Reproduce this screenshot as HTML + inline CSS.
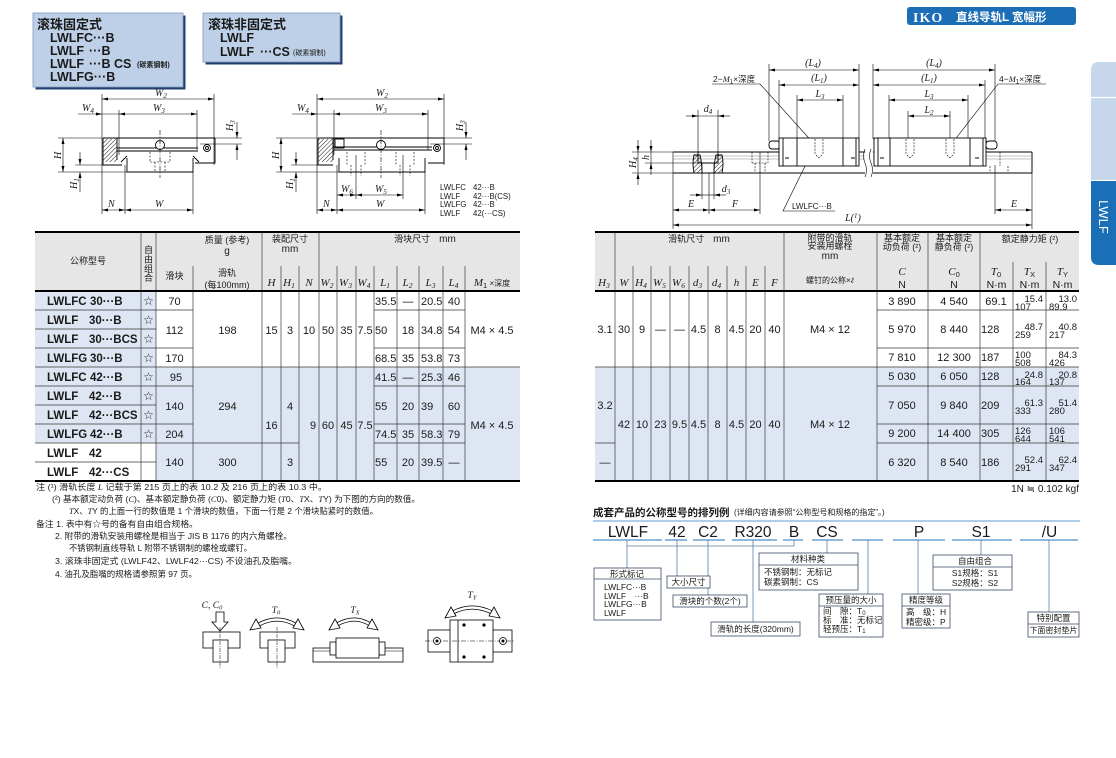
<!DOCTYPE html>
<html><head><meta charset="utf-8">
<style>
html,body{margin:0;padding:0;background:#fff;}
svg{display:block;}
text{font-family:"Liberation Sans","Noto Sans CJK SC",sans-serif;fill:#1a1a1a;}
.s{font-family:"Liberation Serif","Noto Serif CJK SC",serif;font-style:italic;}
.b{font-weight:bold;}
.st{font-family:"DejaVu Sans",sans-serif;}
</style></head><body>
<svg width="1116" height="758" viewBox="0 0 1116 758" xmlns="http://www.w3.org/2000/svg">
<defs>
<marker id="a" viewBox="0 0 8 4" refX="8" refY="2" markerWidth="6" markerHeight="3" markerUnits="userSpaceOnUse" orient="auto-start-reverse"><path d="M0,0L8,2L0,4z" fill="#000"/></marker>
<pattern id="h" width="3" height="3" patternUnits="userSpaceOnUse" patternTransform="rotate(45)"><line x1="0" y1="0" x2="0" y2="3" stroke="#000" stroke-width="0.9"/></pattern>
</defs>

<!-- ===== HEADER BOXES ===== -->
<rect x="35.5" y="15.5" width="150" height="74" fill="#22406c"/>
<rect x="33" y="13" width="150" height="74" fill="#bdd0e7" stroke="#7f9cc2" stroke-width="0.8"/>
<g class="b" font-size="12.5">
<text class="b" x="37" y="29" font-size="13">滚珠固定式</text>
<text class="b" x="50" y="42">LWLFC···B</text>
<text class="b" x="50" y="55">LWLF</text><text class="b" x="89" y="55">···B</text>
<text class="b" x="50" y="68">LWLF</text><text class="b" x="89" y="68">···B CS</text>
<text x="137" y="67" font-size="7">(碳素钢制)</text>
<text class="b" x="50" y="81">LWLFG···B</text>
</g>
<rect x="205.5" y="15.5" width="137" height="49" fill="#22406c"/>
<rect x="203" y="13" width="137" height="49" fill="#bdd0e7" stroke="#7f9cc2" stroke-width="0.8"/>
<text class="b" x="208" y="29" font-size="13">滚珠非固定式</text>
<text class="b" x="220" y="42" font-size="12.5">LWLF</text>
<text class="b" x="220" y="56" font-size="12.5">LWLF</text><text class="b" x="260" y="56" font-size="12.5">···CS</text>
<text x="293" y="55" font-size="7">(碳素钢制)</text>

<!-- IKO title -->
<rect x="907" y="7" width="169" height="18" rx="3" fill="#1b6db5"/>
<text x="913" y="22" font-size="14" class="b" style="fill:#fff;font-family:'Liberation Serif',serif;letter-spacing:1px">IKO</text>
<text x="956" y="21" font-size="11.5" class="b" style="fill:#fff">直线导轨L 宽幅形</text>

<!-- right tab -->
<path d="M1099,62 H1116 V180 H1091 V70 Q1091,62 1099,62Z" fill="#c6d7ec"/>
<line x1="1091" y1="97.5" x2="1116" y2="97.5" stroke="#fff" stroke-width="1.2"/>
<path d="M1091,181 H1116 V265 H1099 Q1091,265 1091,257Z" fill="#1b6fb6"/>
<text x="1103" y="217" font-size="13" text-anchor="middle" transform="rotate(90 1103 217)" dy="4" style="fill:#fff">LWLF</text>

<!-- ===== LEFT DRAWING 1 ===== -->
<g stroke="#000" stroke-width="0.6" fill="none">
<line x1="102" y1="94" x2="102" y2="214"/>
<line x1="214" y1="94" x2="214" y2="165"/>
<line x1="119" y1="110" x2="119" y2="155"/>
<line x1="197" y1="110" x2="197" y2="150"/>
<line x1="125" y1="165" x2="125" y2="214"/>
<line x1="193" y1="172" x2="193" y2="214"/>
<line x1="58" y1="138" x2="102" y2="138"/>
<line x1="214" y1="138" x2="242" y2="138"/>
<line x1="200" y1="144" x2="242" y2="144"/>
<line x1="58" y1="172" x2="127" y2="172"/>
<line x1="75" y1="165" x2="103" y2="165"/>
<line x1="102" y1="99" x2="214" y2="99" marker-start="url(#a)" marker-end="url(#a)"/>
<line x1="78" y1="114" x2="102" y2="114" marker-end="url(#a)"/>
<line x1="102" y1="114" x2="119" y2="114"/>
<line x1="119" y1="114" x2="197" y2="114" marker-start="url(#a)" marker-end="url(#a)"/>
<line x1="63" y1="138" x2="63" y2="172" marker-start="url(#a)" marker-end="url(#a)"/>
<line x1="80" y1="152" x2="80" y2="165" marker-end="url(#a)"/>
<line x1="80" y1="192" x2="80" y2="172" marker-end="url(#a)"/>
<line x1="237" y1="122" x2="237" y2="138" marker-end="url(#a)"/>
<line x1="237" y1="160" x2="237" y2="144" marker-end="url(#a)"/>
<line x1="102" y1="210" x2="125" y2="210" marker-start="url(#a)" marker-end="url(#a)"/>
<line x1="125" y1="210" x2="193" y2="210" marker-start="url(#a)" marker-end="url(#a)"/>
</g>
<g stroke="#000" stroke-width="0.9" fill="none">
<rect x="103" y="139" width="14" height="23" fill="url(#h)" stroke="none"/>
<path d="M103,138 H215 V163 H195 M103,138 V165 H122"/>
<path d="M117,148 H198 M117,151 H198"/>
<path d="M127,158 V172 H193 V158"/>
<line x1="117" y1="138" x2="117" y2="160"/>
<line x1="121" y1="162" x2="127" y2="156"/><line x1="193" y1="156" x2="199" y2="162"/>
<circle cx="160" cy="145" r="4.5" fill="#fff"/>
<circle cx="207" cy="148" r="3.5" fill="#fff"/>
<circle cx="207" cy="148" r="1.5"/>
</g>
<g stroke="#000" stroke-width="0.6" fill="none" stroke-dasharray="2,1.5">
<path d="M150,152 V162 M170,152 V162 M155,162 V172 M165,162 V172 M150,162 H170"/>
<line x1="160" y1="130" x2="160" y2="178" stroke-dasharray="5,1.5,1,1.5"/>
</g>
<text class="s" x="155" y="96" font-size="10">W<tspan font-size="7" dy="2">2</tspan></text>
<text class="s" x="82" y="111" font-size="10">W<tspan font-size="7" dy="2">4</tspan></text>
<text class="s" x="153" y="111" font-size="10">W<tspan font-size="7" dy="2">3</tspan></text>
<text class="s" x="61" y="159" font-size="10" transform="rotate(-90 61 159)">H</text>
<text class="s" x="77" y="189" font-size="10" transform="rotate(-90 77 189)">H<tspan font-size="7" dy="2">1</tspan></text>
<text class="s" x="233" y="131" font-size="10" transform="rotate(-90 233 131)">H<tspan font-size="7" dy="2">3</tspan></text>
<text class="s" x="108" y="207" font-size="10">N</text>
<text class="s" x="155" y="207" font-size="10">W</text>

<!-- ===== LEFT DRAWING 2 ===== -->
<g stroke="#000" stroke-width="0.6" fill="none">
<line x1="317" y1="94" x2="317" y2="214"/>
<line x1="444" y1="94" x2="444" y2="165"/>
<line x1="334" y1="110" x2="334" y2="155"/>
<line x1="428" y1="110" x2="428" y2="150"/>
<line x1="337" y1="165" x2="337" y2="214"/>
<line x1="425" y1="172" x2="425" y2="214"/>
<line x1="356" y1="155" x2="356" y2="199"/>
<line x1="403" y1="155" x2="403" y2="199"/>
<line x1="276" y1="138" x2="317" y2="138"/>
<line x1="444" y1="138" x2="472" y2="138"/>
<line x1="430" y1="144" x2="472" y2="144"/>
<line x1="276" y1="172" x2="340" y2="172"/>
<line x1="291" y1="165" x2="318" y2="165"/>
<line x1="317" y1="99" x2="444" y2="99" marker-start="url(#a)" marker-end="url(#a)"/>
<line x1="292" y1="114" x2="317" y2="114" marker-end="url(#a)"/>
<line x1="317" y1="114" x2="334" y2="114"/>
<line x1="334" y1="114" x2="428" y2="114" marker-start="url(#a)" marker-end="url(#a)"/>
<line x1="281" y1="138" x2="281" y2="172" marker-start="url(#a)" marker-end="url(#a)"/>
<line x1="296" y1="152" x2="296" y2="165" marker-end="url(#a)"/>
<line x1="296" y1="192" x2="296" y2="172" marker-end="url(#a)"/>
<line x1="466" y1="122" x2="466" y2="138" marker-end="url(#a)"/>
<line x1="466" y1="160" x2="466" y2="144" marker-end="url(#a)"/>
<line x1="337" y1="195" x2="356" y2="195" marker-start="url(#a)" marker-end="url(#a)"/>
<line x1="356" y1="195" x2="403" y2="195" marker-start="url(#a)" marker-end="url(#a)"/>
<line x1="317" y1="210" x2="337" y2="210" marker-start="url(#a)" marker-end="url(#a)"/>
<line x1="337" y1="210" x2="425" y2="210" marker-start="url(#a)" marker-end="url(#a)"/>
</g>
<g stroke="#000" stroke-width="0.9" fill="none">
<rect x="318" y="139" width="15" height="23" fill="url(#h)" stroke="none"/>
<path d="M318,138 H444 V163 H428 M318,138 V165 H333"/>
<path d="M333,147 H432 M333,150 H432"/>
<path d="M339,158 V172 H425 V158"/>
<line x1="333" y1="138" x2="333" y2="160"/>
<rect x="335" y="139" width="9" height="9"/>
<circle cx="381" cy="145" r="4.5" fill="#fff"/>
<circle cx="437" cy="148" r="3.5" fill="#fff"/>
<circle cx="437" cy="148" r="1.5"/>
</g>
<g stroke="#000" stroke-width="0.6" fill="none" stroke-dasharray="2,1.5">
<path d="M347,152 V165 M365,152 V165 M351,165 V176 M361,165 V176"/>
<path d="M396,152 V165 M414,152 V165 M400,165 V176 M410,165 V176"/>
<line x1="381" y1="130" x2="381" y2="178" stroke-dasharray="5,1.5,1,1.5"/>
</g>
<text class="s" x="376" y="96" font-size="10">W<tspan font-size="7" dy="2">2</tspan></text>
<text class="s" x="297" y="111" font-size="10">W<tspan font-size="7" dy="2">4</tspan></text>
<text class="s" x="375" y="111" font-size="10">W<tspan font-size="7" dy="2">3</tspan></text>
<text class="s" x="279" y="159" font-size="10" transform="rotate(-90 279 159)">H</text>
<text class="s" x="293" y="189" font-size="10" transform="rotate(-90 293 189)">H<tspan font-size="7" dy="2">1</tspan></text>
<text class="s" x="463" y="131" font-size="10" transform="rotate(-90 463 131)">H<tspan font-size="7" dy="2">3</tspan></text>
<text class="s" x="341" y="192" font-size="10">W<tspan font-size="7" dy="2">6</tspan></text>
<text class="s" x="375" y="192" font-size="10">W<tspan font-size="7" dy="2">5</tspan></text>
<text class="s" x="323" y="207" font-size="10">N</text>
<text class="s" x="376" y="207" font-size="10">W</text>
<g font-size="7.8">
<text x="440" y="190">LWLFC</text><text x="473" y="190">42···B</text>
<text x="440" y="199">LWLF</text><text x="473" y="199">42···B(CS)</text>
<text x="440" y="207">LWLFG</text><text x="473" y="207">42···B</text>
<text x="440" y="216">LWLF</text><text x="473" y="216">42(···CS)</text>
</g>

<!-- ===== RIGHT DRAWING ===== -->
<g stroke="#000" stroke-width="0.6" fill="none">
<!-- extension lines -->
<line x1="769" y1="64" x2="769" y2="141"/>
<line x1="779" y1="80" x2="779" y2="138"/>
<line x1="859" y1="64" x2="859" y2="139"/>
<line x1="797" y1="95" x2="797" y2="138"/>
<line x1="843" y1="95" x2="843" y2="138"/>
<line x1="873" y1="64" x2="873" y2="139"/>
<line x1="985" y1="80" x2="985" y2="138"/>
<line x1="995" y1="64" x2="995" y2="141"/>
<line x1="995" y1="165" x2="995" y2="214"/>
<line x1="889" y1="95" x2="889" y2="138"/>
<line x1="968" y1="95" x2="968" y2="138"/>
<line x1="908" y1="111" x2="908" y2="139"/>
<line x1="950" y1="111" x2="950" y2="139"/>
<line x1="698" y1="110" x2="698" y2="153"/>
<line x1="718" y1="110" x2="718" y2="153"/>
<line x1="702" y1="163" x2="702" y2="199"/>
<line x1="714" y1="163" x2="714" y2="199"/>
<line x1="673" y1="152" x2="673" y2="229"/>
<line x1="1032" y1="152" x2="1032" y2="229"/>
<line x1="709" y1="173" x2="709" y2="214"/>
<line x1="760" y1="152" x2="760" y2="214"/>
<line x1="632" y1="152" x2="700" y2="152"/>
<line x1="645" y1="163" x2="700" y2="163"/>
<line x1="632" y1="173" x2="673" y2="173"/>
<!-- dims -->
<line x1="769" y1="70" x2="859" y2="70" marker-start="url(#a)" marker-end="url(#a)"/>
<line x1="779" y1="85" x2="859" y2="85" marker-start="url(#a)" marker-end="url(#a)"/>
<line x1="797" y1="100" x2="843" y2="100" marker-start="url(#a)" marker-end="url(#a)"/>
<line x1="873" y1="70" x2="995" y2="70" marker-start="url(#a)" marker-end="url(#a)"/>
<line x1="873" y1="85" x2="985" y2="85" marker-start="url(#a)" marker-end="url(#a)"/>
<line x1="889" y1="100" x2="968" y2="100" marker-start="url(#a)" marker-end="url(#a)"/>
<line x1="908" y1="116" x2="950" y2="116" marker-start="url(#a)" marker-end="url(#a)"/>
<line x1="686" y1="116" x2="698" y2="116" marker-end="url(#a)"/>
<line x1="698" y1="116" x2="718" y2="116"/>
<line x1="730" y1="116" x2="718" y2="116" marker-end="url(#a)"/>
<line x1="690" y1="195" x2="702" y2="195" marker-end="url(#a)"/>
<line x1="702" y1="195" x2="714" y2="195"/>
<line x1="726" y1="195" x2="714" y2="195" marker-end="url(#a)"/>
<line x1="638" y1="140" x2="638" y2="152" marker-end="url(#a)"/>
<line x1="638" y1="152" x2="638" y2="173"/>
<line x1="638" y1="185" x2="638" y2="173" marker-end="url(#a)"/>
<line x1="651" y1="140" x2="651" y2="152" marker-end="url(#a)"/>
<line x1="651" y1="152" x2="651" y2="163"/>
<line x1="651" y1="175" x2="651" y2="163" marker-end="url(#a)"/>
<line x1="673" y1="210" x2="709" y2="210" marker-start="url(#a)" marker-end="url(#a)"/>
<line x1="709" y1="210" x2="760" y2="210" marker-start="url(#a)" marker-end="url(#a)"/>
<line x1="995" y1="210" x2="1032" y2="210" marker-start="url(#a)" marker-end="url(#a)"/>
<line x1="673" y1="225" x2="1032" y2="225" marker-start="url(#a)" marker-end="url(#a)"/>
<!-- leaders -->
<path d="M712,84 H760 L816,146"/>
<path d="M1046,84 H998 L950,146"/>
<path d="M835,211 H783 L808,160"/>
</g>
<!-- rail -->
<g stroke="#000" stroke-width="0.9" fill="none">
<path d="M673,152 H865 M873,152 H1032 M673,173 H865 M873,173 H1032 M1032,152 V173"/>
<path d="M673,156 H865 M873,156 H1032" stroke="#888" stroke-width="0.6"/>
<path d="M673,159 H865 M873,159 H1032" stroke="#888" stroke-width="0.6"/>
<path d="M865,149 q-3,7 0,14 q3,7 0,14 M871,149 q-3,7 0,14 q3,7 0,14" stroke-width="0.6"/>
<!-- section hole -->
<path d="M694,155 H700 Q702,163 702,173 H694 Q692,163 694,155Z" fill="url(#h)"/>
<path d="M722,155 H716 Q714,163 714,173 H722 Q724,163 722,155Z" fill="url(#h)"/>
<path d="M698,152 V163 H718 V152"/>
<!-- slider 1 -->
<rect x="769" y="141" width="11" height="8" rx="3" fill="#fff"/>
<rect x="779" y="138" width="80" height="28" fill="#fff"/>
<path d="M783,138 V166 M797,138 V166 M843,138 V166 M856,138 V166"/>
<path d="M785,158 H789 M851,158 H855"/>
<!-- slider 2 -->
<rect x="986" y="141" width="11" height="8" rx="3" fill="#fff"/>
<rect x="874" y="138" width="112" height="28" fill="#fff"/>
<path d="M878,138 V166 M890,138 V166 M970,138 V166 M983,138 V166"/>
<path d="M880,158 H884 M975,158 H979"/>
</g>
<g stroke="#000" stroke-width="0.6" fill="none" stroke-dasharray="2,1.2">
<path d="M815,139 V155 M823,139 V155 M816,155 L819,158 L822,155"/>
<path d="M906,139 V155 M914,139 V155 M907,155 L910,158 L913,155"/>
<path d="M946,139 V155 M954,139 V155 M947,155 L950,158 L953,155"/>
<path d="M752,152 V163 M768,152 V163 M755,163 V173 M765,163 V173 M752,163 H768"/>
<path d="M990,166 V173 M1008,166 V173 M1000,152 V166" />
</g>
<g font-size="10">
<text class="s" x="813" y="66" text-anchor="middle">(L<tspan font-size="7" dy="2">4</tspan><tspan dy="-2">)</tspan></text>
<text class="s" x="819" y="81" text-anchor="middle">(L<tspan font-size="7" dy="2">1</tspan><tspan dy="-2">)</tspan></text>
<text class="s" x="820" y="97" text-anchor="middle">L<tspan font-size="7" dy="2">3</tspan></text>
<text class="s" x="934" y="66" text-anchor="middle">(L<tspan font-size="7" dy="2">4</tspan><tspan dy="-2">)</tspan></text>
<text class="s" x="929" y="81" text-anchor="middle">(L<tspan font-size="7" dy="2">1</tspan><tspan dy="-2">)</tspan></text>
<text class="s" x="929" y="97" text-anchor="middle">L<tspan font-size="7" dy="2">3</tspan></text>
<text class="s" x="929" y="113" text-anchor="middle">L<tspan font-size="7" dy="2">2</tspan></text>
<text class="s" x="708" y="112" text-anchor="middle">d<tspan font-size="7" dy="2">4</tspan></text>
<text class="s" x="726" y="192" text-anchor="middle">d<tspan font-size="7" dy="2">3</tspan></text>
<text class="s" x="691" y="207" text-anchor="middle">E</text>
<text class="s" x="735" y="207" text-anchor="middle">F</text>
<text class="s" x="1014" y="207" text-anchor="middle">E</text>
<text class="s" x="853" y="221" text-anchor="middle">L(<tspan font-size="7" dy="-3">1</tspan><tspan dy="3">)</tspan></text>
<text class="s" x="636" y="168" transform="rotate(-90 636 168)">H<tspan font-size="7" dy="2">4</tspan></text>
<text class="s" x="649" y="160" transform="rotate(-90 649 160)">h</text>
</g>
<text x="713" y="82" font-size="8.5">2−<tspan class="s">M</tspan><tspan font-size="6" dy="1.5">1</tspan><tspan dy="-1.5">×深度</tspan></text>
<text x="999" y="82" font-size="8.5">4−<tspan class="s">M</tspan><tspan font-size="6" dy="1.5">1</tspan><tspan dy="-1.5">×深度</tspan></text>
<text x="792" y="209" font-size="8">LWLFC···B</text>

<!-- ===== LEFT TABLE ===== -->
<rect x="35" y="232" width="485" height="59" fill="#e6e6e6"/>
<rect x="35" y="291" width="121" height="152" fill="#dde6f2"/>
<rect x="156" y="367" width="364" height="114" fill="#dde6f2"/>
<g stroke="#3a3a3a" stroke-width="0.7">
<path d="M141,232 V481 M156,232 V481 M262,232 V481 M319,232 V481"/>
<path d="M193,266 V481 M281,266 V481 M299,266 V481 M337,266 V481 M356,266 V481 M374,266 V481 M397,266 V481 M419,266 V481 M443,266 V481 M465,266 V481"/>
<path d="M35,367 H520"/>
<path d="M35,443 H299 M374,443 H465"/>
<path d="M35,310 H193 M374,310 H465 M35,348 H193 M374,348 H465 M35,386 H193 M374,386 H465 M35,424 H193 M374,424 H465"/>
<path d="M35,329 H156 M35,405 H156 M35,462 H156"/>
</g>
<g stroke="#000" stroke-width="2"><path d="M35,232 H520 M35,291 H520 M35,481 H520"/></g>
<g font-size="9" text-anchor="middle">
<text x="88" y="264">公称型号</text>
<text x="148.5" y="253">自</text><text x="148.5" y="262.5">由</text><text x="148.5" y="272">组</text><text x="148.5" y="281">合</text>
<text x="227" y="243">质量 (参考)</text>
<text x="227" y="254" font-size="10">g</text>
<text x="174.5" y="279">滑块</text>
<text x="227" y="276">滑轨</text>
<text x="227" y="288">(每100mm)</text>
<text x="290" y="242">装配尺寸</text>
<text x="290" y="252" font-size="10">mm</text>
<text x="425" y="242">滑块尺寸　<tspan font-size="10">mm</tspan></text>
</g>
<g font-size="11" text-anchor="middle">
<text class="s" x="271.5" y="286">H</text>
<text class="s" x="289" y="286">H<tspan font-size="7.5" dy="2">1</tspan></text>
<text class="s" x="309" y="286">N</text>
<text class="s" x="327" y="286">W<tspan font-size="7.5" dy="2">2</tspan></text>
<text class="s" x="345.5" y="286">W<tspan font-size="7.5" dy="2">3</tspan></text>
<text class="s" x="364" y="286">W<tspan font-size="7.5" dy="2">4</tspan></text>
<text class="s" x="385" y="286">L<tspan font-size="7.5" dy="2">1</tspan></text>
<text class="s" x="407.5" y="286">L<tspan font-size="7.5" dy="2">2</tspan></text>
<text class="s" x="430.5" y="286">L<tspan font-size="7.5" dy="2">3</tspan></text>
<text class="s" x="453.5" y="286">L<tspan font-size="7.5" dy="2">4</tspan></text>
<text x="492" y="286"><tspan class="s">M</tspan><tspan font-size="7.5" dy="2">1</tspan><tspan font-size="8" dy="-2"> ×深度</tspan></text>
</g>
<g font-size="11.5" class="b">
<text class="b" x="47" y="305">LWLFC</text><text class="b" x="90" y="305">30···B</text>
<text class="b" x="47" y="324">LWLF</text><text class="b" x="89" y="324">30···B</text>
<text class="b" x="47" y="343">LWLF</text><text class="b" x="89" y="343">30···BCS</text>
<text class="b" x="47" y="362">LWLFG</text><text class="b" x="90" y="362">30···B</text>
<text class="b" x="47" y="381">LWLFC</text><text class="b" x="90" y="381">42···B</text>
<text class="b" x="47" y="400">LWLF</text><text class="b" x="89" y="400">42···B</text>
<text class="b" x="47" y="419">LWLF</text><text class="b" x="89" y="419">42···BCS</text>
<text class="b" x="47" y="438">LWLFG</text><text class="b" x="90" y="438">42···B</text>
<text class="b" x="47" y="457">LWLF</text><text class="b" x="89" y="457">42</text>
<text class="b" x="47" y="476">LWLF</text><text class="b" x="89" y="476">42···CS</text>
</g>
<g class="st" font-size="12" text-anchor="middle" style="fill:#333">
<text class="st" x="148.5" y="305">☆</text><text class="st" x="148.5" y="324">☆</text><text class="st" x="148.5" y="343">☆</text><text class="st" x="148.5" y="362">☆</text>
<text class="st" x="148.5" y="381">☆</text><text class="st" x="148.5" y="400">☆</text><text class="st" x="148.5" y="419">☆</text><text class="st" x="148.5" y="438">☆</text>
</g>
<g font-size="11" text-anchor="middle">
<text x="174.5" y="305">70</text><text x="174.5" y="334">112</text><text x="174.5" y="362">170</text>
<text x="176" y="381">95</text><text x="174.5" y="410">140</text><text x="174.5" y="438">204</text><text x="174.5" y="466">140</text>
<text x="227.5" y="334">198</text><text x="227.5" y="410">294</text><text x="227.5" y="466">300</text>
<text x="271.5" y="334">15</text><text x="271.5" y="429">16</text>
<text x="290" y="334">3</text><text x="290" y="410">4</text><text x="290" y="466">3</text>
<text x="309" y="334">10</text><text x="313" y="429">9</text>
<text x="328" y="334">50</text><text x="328" y="429">60</text>
<text x="346.5" y="334">35</text><text x="346.5" y="429">45</text>
<text x="365" y="334">7.5</text><text x="365" y="429">7.5</text>
<text x="408" y="334">18</text><text x="408" y="362">35</text><text x="408" y="410">20</text><text x="408" y="438">35</text><text x="408" y="466">20</text>
<text x="408" y="305">—</text><text x="408" y="381">—</text>
<text x="454" y="305">40</text><text x="454" y="334">54</text><text x="454" y="362">73</text><text x="454" y="381">46</text><text x="454" y="410">60</text><text x="454" y="438">79</text><text x="454" y="466">—</text>
<text x="492" y="334">M4 × 4.5</text><text x="492" y="429">M4 × 4.5</text>
</g>
<g font-size="11">
<text x="375" y="305">35.5</text><text x="375" y="334">50</text><text x="375" y="362">68.5</text>
<text x="375" y="381">41.5</text><text x="375" y="410">55</text><text x="375" y="438">74.5</text><text x="375" y="466">55</text>
<text x="421" y="305">20.5</text><text x="421" y="334">34.8</text><text x="421" y="362">53.8</text>
<text x="421" y="381">25.3</text><text x="421" y="410">39</text><text x="421" y="438">58.3</text><text x="421" y="466">39.5</text>
</g>

<!-- ===== RIGHT TABLE ===== -->
<rect x="595" y="232" width="484" height="59" fill="#e6e6e6"/>
<rect x="595" y="367" width="484" height="114" fill="#dde6f2"/>
<g stroke="#3a3a3a" stroke-width="0.7">
<path d="M615,232 V481 M784,232 V481 M877,232 V481 M928,232 V481 M980,232 V481"/>
<path d="M633,266 V481 M651,266 V481 M670,266 V481 M689,266 V481 M708,266 V481 M727,266 V481 M746,266 V481 M765,266 V481 M1013,262 V481 M1046,262 V481"/>
<path d="M595,367 H1079 M595,443 H615"/>
<path d="M877,310 H1079 M877,348 H1079 M877,386 H1079 M877,424 H1079 M877,443 H1079"/>
</g>
<g stroke="#000" stroke-width="2"><path d="M595,232 H1079 M595,291 H1079 M595,481 H1079"/></g>
<g font-size="9" text-anchor="middle">
<text x="699" y="242">滑轨尺寸　<tspan font-size="10">mm</tspan></text>
<text x="830" y="241">附带的滑轨</text>
<text x="830" y="249">安装用螺栓</text>
<text x="830" y="259" font-size="10">mm</text>
<text x="830" y="283" font-size="8">螺钉的公称×<tspan class="s">ℓ</tspan></text>
<text x="902" y="241">基本额定</text>
<text x="902" y="250">动负荷 (²)</text>
<text x="954" y="241">基本额定</text>
<text x="954" y="250">静负荷 (²)</text>
<text x="1030" y="242">额定静力矩 (²)</text>
<text x="902" y="288" font-size="10.5">N</text>
<text x="954" y="288" font-size="10.5">N</text>
<text x="996.5" y="288" font-size="10.5">N·m</text>
<text x="1029.5" y="288" font-size="10.5">N·m</text>
<text x="1062.5" y="288" font-size="10.5">N·m</text>
</g>
<g font-size="11" text-anchor="middle">
<text class="s" x="902" y="275">C</text>
<text class="s" x="954" y="275">C<tspan font-size="7.5" dy="2" style="font-style:normal;font-family:'Liberation Sans'">0</tspan></text>
<text class="s" x="996" y="275">T<tspan font-size="7.5" dy="2" style="font-style:normal;font-family:'Liberation Sans'">0</tspan></text>
<text class="s" x="1029.5" y="275">T<tspan font-size="7.5" dy="2" style="font-style:normal;font-family:'Liberation Sans'">X</tspan></text>
<text class="s" x="1062.5" y="275">T<tspan font-size="7.5" dy="2" style="font-style:normal;font-family:'Liberation Sans'">Y</tspan></text>
<text class="s" x="604" y="286">H<tspan font-size="7.5" dy="2">3</tspan></text>
<text class="s" x="624" y="286">W</text>
<text class="s" x="641" y="286">H<tspan font-size="7.5" dy="2">4</tspan></text>
<text class="s" x="659.5" y="286">W<tspan font-size="7.5" dy="2">5</tspan></text>
<text class="s" x="678.5" y="286">W<tspan font-size="7.5" dy="2">6</tspan></text>
<text class="s" x="697.5" y="286">d<tspan font-size="7.5" dy="2">3</tspan></text>
<text class="s" x="716.5" y="286">d<tspan font-size="7.5" dy="2">4</tspan></text>
<text class="s" x="736.5" y="286">h</text>
<text class="s" x="755.5" y="286">E</text>
<text class="s" x="774.5" y="286">F</text>
</g>
<g font-size="11" text-anchor="middle">
<text x="605" y="333">3.1</text><text x="605" y="409">3.2</text><text x="605" y="466">—</text>
<text x="624" y="333">30</text><text x="642" y="333">9</text><text x="660.5" y="333">—</text><text x="679.5" y="333">—</text><text x="698.5" y="333">4.5</text><text x="717.5" y="333">8</text><text x="736.5" y="333">4.5</text><text x="755.5" y="333">20</text><text x="774.5" y="333">40</text>
<text x="624" y="428">42</text><text x="642" y="428">10</text><text x="660.5" y="428">23</text><text x="679.5" y="428">9.5</text><text x="698.5" y="428">4.5</text><text x="717.5" y="428">8</text><text x="736.5" y="428">4.5</text><text x="755.5" y="428">20</text><text x="774.5" y="428">40</text>
<text x="830" y="333">M4 × 12</text><text x="830" y="428">M4 × 12</text>
<text x="902" y="305">3 890</text><text x="902" y="333">5 970</text><text x="902" y="361">7 810</text><text x="902" y="380">5 030</text><text x="902" y="409">7 050</text><text x="902" y="437">9 200</text><text x="902" y="466">6 320</text>
<text x="954" y="305">4 540</text><text x="954" y="333">8 440</text><text x="954" y="361">12 300</text><text x="954" y="380">6 050</text><text x="954" y="409">9 840</text><text x="954" y="437">14 400</text><text x="954" y="466">8 540</text>
<text x="996" y="305">69.1</text>
</g>
<g font-size="11">
<text x="981" y="333">128</text><text x="981" y="361">187</text><text x="981" y="380">128</text><text x="981" y="409">209</text><text x="981" y="437">305</text><text x="981" y="466">186</text>
</g>
<g font-size="9.5" text-anchor="end">
<text x="1043" y="302">15.4</text><text x="1043" y="330">48.7</text><text x="1043" y="378">24.8</text><text x="1043" y="406">61.3</text><text x="1043" y="463">52.4</text>
<text x="1077" y="302">13.0</text><text x="1077" y="330">40.8</text><text x="1077" y="358">84.3</text><text x="1077" y="378">20.8</text><text x="1077" y="406">51.4</text><text x="1077" y="463">62.4</text>
</g>
<g font-size="9.5">
<text x="1015" y="358">100</text><text x="1015" y="434">126</text><text x="1049" y="434">106</text>
<text x="1015" y="310">107</text><text x="1015" y="338">259</text><text x="1015" y="366">508</text><text x="1015" y="385">164</text><text x="1015" y="414">333</text><text x="1015" y="442">644</text><text x="1015" y="471">291</text>
<text x="1049" y="310">89.9</text><text x="1049" y="338">217</text><text x="1049" y="366">426</text><text x="1049" y="385">137</text><text x="1049" y="414">280</text><text x="1049" y="442">541</text><text x="1049" y="471">347</text>
</g>
<text x="1079" y="492" font-size="10" text-anchor="end">1N ≒ 0.102 kgf</text>

<!-- ===== NOTES ===== -->
<g font-size="8.5">
<text x="36" y="490" textLength="291" lengthAdjust="spacingAndGlyphs">注 (¹) 滑轨长度 <tspan class="s">L</tspan> 记载于第 215 页上的表 10.2 及 216 页上的表 10.3 中。</text>
<text x="52" y="502" textLength="368" lengthAdjust="spacingAndGlyphs">(²) 基本额定动负荷 (<tspan class="s">C</tspan>)、基本额定静负荷 (<tspan class="s">C</tspan>0)、额定静力矩 (<tspan class="s">T</tspan>0、<tspan class="s">T</tspan>X、<tspan class="s">T</tspan>Y) 为下图的方向的数值。</text>
<text x="69" y="514" textLength="309" lengthAdjust="spacingAndGlyphs"><tspan class="s">T</tspan>X、<tspan class="s">T</tspan>Y 的上面一行的数值是 1 个滑块的数值，下面一行是 2 个滑块贴紧时的数值。</text>
<text x="36" y="527" textLength="162" lengthAdjust="spacingAndGlyphs">备注 1. 表中有☆号的备有自由组合规格。</text>
<text x="55" y="539" textLength="237" lengthAdjust="spacingAndGlyphs">2. 附带的滑轨安装用螺栓是相当于 JIS B 1176 的内六角螺栓。</text>
<text x="69" y="551" textLength="183" lengthAdjust="spacingAndGlyphs">不锈钢制直线导轨 L 附带不锈钢制的螺栓或螺钉。</text>
<text x="55" y="564" textLength="242" lengthAdjust="spacingAndGlyphs">3. 滚珠非固定式 (LWLF42、LWLF42···CS) 不设油孔及脂嘴。</text>
<text x="55" y="577" textLength="142" lengthAdjust="spacingAndGlyphs">4. 油孔及脂嘴的规格请参照第 97 页。</text>
</g>

<!-- ===== LOAD DIRECTION FIGURES ===== -->
<g stroke="#000" stroke-width="0.8" fill="#fff">
<!-- C,C0 -->
<path d="M216,612 H224 V622 H228 L220,631 L212,622 H216 Z"/>
<rect x="203" y="632" width="37" height="16"/>
<rect x="213" y="640" width="15" height="22"/>
<line x1="220" y1="627" x2="220" y2="668" stroke-dasharray="4,1,1,1" stroke-width="0.5"/>
<!-- T0 -->
<rect x="260" y="632" width="35" height="16"/>
<rect x="268" y="640" width="17" height="22"/>
<line x1="277" y1="627" x2="277" y2="668" stroke-dasharray="4,1,1,1" stroke-width="0.5"/>
<!-- TX -->
<rect x="313" y="648" width="90" height="14"/>
<line x1="313" y1="651" x2="403" y2="651" stroke-width="0.5"/>
<rect x="330" y="642" width="6" height="13"/>
<rect x="379" y="642" width="6" height="13"/>
<rect x="336" y="638" width="43" height="20"/>
<!-- TY -->
<rect x="428" y="630" width="84" height="22"/>
<rect x="450" y="620" width="43" height="42"/>
<line x1="458" y1="620" x2="458" y2="662"/>
<line x1="425" y1="641" x2="515" y2="641" stroke-dasharray="5,1.5,1,1.5" stroke-width="0.5"/>
<circle cx="437" cy="641" r="3.5"/><circle cx="503" cy="641" r="3.5"/>
</g>
<g fill="#000">
<circle cx="437" cy="641" r="1.5"/><circle cx="503" cy="641" r="1.5"/>
<circle cx="464" cy="625" r="1.6"/><circle cx="484" cy="625" r="1.6"/><circle cx="464" cy="657" r="1.6"/><circle cx="484" cy="657" r="1.6"/>
</g>
<g fill="none">
<path d="M258,625 Q277,614 296,625" stroke="#000" stroke-width="4"/>
<path d="M258,625 Q277,614 296,625" stroke="#fff" stroke-width="2.4"/>
<path d="M336,625 Q355,614 371,625" stroke="#000" stroke-width="4"/>
<path d="M336,625 Q355,614 371,625" stroke="#fff" stroke-width="2.4"/>
<path d="M452,613 Q472,602 493,613" stroke="#000" stroke-width="4"/>
<path d="M452,613 Q472,602 493,613" stroke="#fff" stroke-width="2.4"/>
</g>
<g fill="#fff" stroke="#000" stroke-width="0.8">
<polygon points="250,630 256,619 261,628"/><polygon points="304,630 298,619 293,628"/>
<polygon points="329,630 335,619 340,628"/><polygon points="378,630 372,619 367,628"/>
<polygon points="445,618 451,607 456,616"/><polygon points="500,618 494,607 489,616"/>
</g>
<text class="s" x="212" y="608" font-size="9.5" text-anchor="middle">C, C<tspan font-size="6.5" dy="1.5">0</tspan></text>
<text class="s" x="276" y="613" font-size="9.5" text-anchor="middle">T<tspan font-size="6.5" dy="1.5">0</tspan></text>
<text class="s" x="355" y="613" font-size="9.5" text-anchor="middle">T<tspan font-size="6.5" dy="1.5">X</tspan></text>
<text class="s" x="472" y="598" font-size="9.5" text-anchor="middle">T<tspan font-size="6.5" dy="1.5">Y</tspan></text>

<!-- ===== PART NUMBER EXAMPLE ===== -->
<text class="b" x="593" y="516" font-size="10.5">成套产品的公称型号的排列例</text>
<text x="734" y="515" font-size="8">(详细内容请参照“公称型号和规格的指定”。)</text>
<line x1="593" y1="521" x2="1080" y2="521" stroke="#5b9bd5" stroke-width="0.9"/>
<g font-size="15.5" text-anchor="middle" style="fill:#111">
<text x="628" y="537">LWLF</text><text x="677" y="537">42</text><text x="708" y="537">C2</text><text x="753" y="537">R320</text><text x="794" y="537">B</text><text x="827" y="537">CS</text><text x="919" y="537">P</text><text x="981" y="537">S1</text><text x="1049.5" y="537">/U</text>
</g>
<g stroke="#4f8fc9" stroke-width="1.2">
<path d="M593,540 H662 M665,540 H687 M693,540 H725 M732,540 H777 M783,540 H803 M812,540 H843 M852,540 H883 M893,540 H945 M952,540 H1012 M1020,540 H1078"/>
</g>
<g stroke="#5a7fa8" stroke-width="0.8" fill="none">
<path d="M627,540 V568 M627,546 H794 V540"/>
<path d="M677,540 V576 M708,540 V595 M753,540 V622 M827,540 V553 M868,540 V594 M918,540 V594 M981,540 V555 M1049,540 V612"/>
</g>
<g stroke="#3a4a66" stroke-width="0.8" fill="#fff">
<rect x="594" y="568" width="67" height="52"/><line x1="594" y1="579" x2="661" y2="579"/>
<rect x="667" y="576" width="43" height="12"/>
<rect x="673" y="595" width="74" height="12"/>
<rect x="711" y="622" width="89" height="14"/>
<rect x="759" y="553" width="99" height="37"/><line x1="759" y1="565" x2="858" y2="565"/>
<rect x="819" y="594" width="64" height="43"/><line x1="819" y1="606" x2="883" y2="606"/>
<rect x="902" y="594" width="48" height="34"/><line x1="902" y1="606" x2="950" y2="606"/>
<rect x="933" y="555" width="79" height="35"/><line x1="933" y1="567" x2="1012" y2="567"/>
<rect x="1028" y="612" width="51" height="25"/><line x1="1028" y1="624" x2="1079" y2="624"/>
</g>
<g font-size="8.5">
<text x="627" y="577" text-anchor="middle">形式标记</text>
<text x="604" y="590">LWLFC···B</text>
<text x="604" y="599">LWLF　···B</text>
<text x="604" y="607">LWLFG···B</text>
<text x="604" y="616">LWLF</text>
<text x="688.5" y="585" text-anchor="middle">大小尺寸</text>
<text x="710" y="604" text-anchor="middle">滑块的个数(2个)</text>
<text x="755.5" y="632" text-anchor="middle">滑轨的长度(320mm)</text>
<text x="808" y="562" text-anchor="middle">材料种类</text>
<text x="764" y="575">不锈钢制：无标记</text>
<text x="764" y="585">碳素钢制：CS</text>
<text x="851" y="603" text-anchor="middle">预压量的大小</text>
<text x="823" y="614">间　隙：T<tspan font-size="6" dy="1">0</tspan></text>
<text x="823" y="623">标　准：无标记</text>
<text x="823" y="632">轻预压：T<tspan font-size="6" dy="1">1</tspan></text>
<text x="926" y="603" text-anchor="middle">精度等级</text>
<text x="906" y="615">高　级：H</text>
<text x="906" y="625">精密级：P</text>
<text x="975" y="564" text-anchor="middle">自由组合</text>
<text x="975" y="576" text-anchor="middle">S1规格：S1</text>
<text x="975" y="586" text-anchor="middle">S2规格：S2</text>
<text x="1053.5" y="621" text-anchor="middle">特别配置</text>
<text x="1053.5" y="633" text-anchor="middle" font-size="8">下面密封垫片</text>
</g>
</svg>
</body></html>
